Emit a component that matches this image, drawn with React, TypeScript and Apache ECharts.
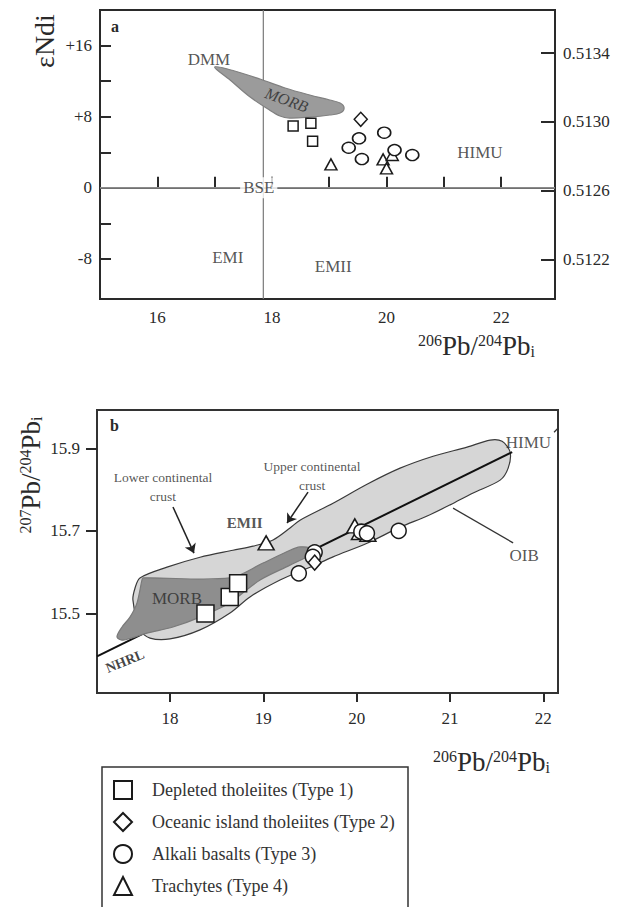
import React, { useEffect, useRef } from "react";
import * as echarts from "echarts";

// ---------- axis ticks ----------
const A_X_TICKS = [16, 17, 18, 19, 20, 21, 22];
const A_X_LABELS = [16, 18, 20, 22];
const A_Y_TICKS = [-8, -4, 0, 4, 8, 12, 16];
const A_Y_LABELS = [-8, 0, 8, 16];
const A_R_TICKS = [0.5122, 0.5126, 0.513, 0.5134];
const B_X_TICKS = [18, 19, 20, 21, 22];
const B_Y_TICKS = [15.5, 15.7, 15.9];

// ---------- panel a data (206Pb/204Pb, eNd) ----------
const aSquares = [[18.37, 6.95], [18.68, 7.26], [18.71, 5.23]];
const aDiamonds = [[19.55, 7.71]];
const aCircles = [[19.52, 5.57], [19.34, 4.51], [19.57, 3.24], [19.96, 6.2], [20.14, 4.25], [20.45, 3.69]];
const aTriangles = [[19.03, 2.64], [19.94, 3.2], [20.1, 3.69], [20.0, 2.19]];
const aMorb = [
  [17.0, 13.59], [17.35, 13.14], [17.79, 12.24], [18.23, 11.23], [18.66, 10.44], [19.01, 9.88],
  [19.19, 9.54], [19.26, 8.98], [19.19, 8.41], [19.01, 8.19], [18.66, 7.96], [18.31, 7.85],
  [18.14, 8.08], [17.93, 8.86], [17.62, 10.21], [17.27, 12.13],
];
const aBseLine = [[15, 0], [22.94, 0]];
const aVertLine = [[17.85, -12.5], [17.85, 20]];
const aLabelNames = ["DMM", "EMI", "EMII", "HIMU"];
const aLabelPos = [[16.9, 14.38], [17.23, -7.78], [19.07, -8.9], [21.63, 4.03]];
const aMorbLabelPos = [18.26, 9.9];
const aBsePos = [17.77, 0];

// ---------- panel b data (206Pb/204Pb, 207Pb/204Pb) ----------
const bSquares = [[18.38, 15.5], [18.64, 15.54], [18.73, 15.573]];
const bDiamonds = [[19.55, 15.623]];
const bCircles = [[19.38, 15.597], [19.55, 15.648], [19.53, 15.637], [20.05, 15.698], [20.11, 15.694], [20.45, 15.7]];
const bTriangles = [[19.03, 15.671], [19.98, 15.712], [20.03, 15.696], [20.12, 15.692]];
const bOib = [
  [17.678, 15.586], [17.968, 15.612], [18.322, 15.636], [18.675, 15.653], [18.89, 15.663],
  [19.104, 15.678], [19.286, 15.707], [19.393, 15.726], [19.747, 15.767], [20.111, 15.813],
  [20.465, 15.852], [20.819, 15.881], [21.183, 15.903], [21.43, 15.92], [21.558, 15.917],
  [21.644, 15.891], [21.623, 15.852], [21.537, 15.823], [21.248, 15.792], [21.001, 15.763],
  [20.755, 15.736], [20.465, 15.709], [20.111, 15.67], [19.747, 15.637], [19.501, 15.612],
  [19.179, 15.581], [18.857, 15.54], [18.643, 15.501], [18.322, 15.46], [18.0, 15.438],
  [17.786, 15.44], [17.678, 15.46], [17.603, 15.532], [17.625, 15.561],
];
const bMorb = [
  [17.711, 15.586], [18.643, 15.586], [18.997, 15.622], [19.286, 15.653], [19.393, 15.661],
  [19.501, 15.658], [19.533, 15.646], [19.286, 15.617], [18.965, 15.581], [18.75, 15.544],
  [18.643, 15.525], [18.322, 15.491], [18.032, 15.467], [17.753, 15.452], [17.496, 15.435],
  [17.432, 15.443], [17.486, 15.467], [17.571, 15.491], [17.646, 15.525], [17.7, 15.581],
];
const nhrl = [[17.218, 15.396], [21.666, 15.891]];
const bLowerArrow = [[18.032, 15.758], [18.257, 15.646]];
const bUpperArrow = [[19.479, 15.794], [19.254, 15.719]];
const bOibPointer = [[21.033, 15.755], [21.676, 15.671]];
const bHimuTail = [[22.115, 15.939], [22.157, 15.949]];
const bLabelNames = ["MORB", "Lower continental\ncrust", "Upper continental\ncrust", "HIMU", "OIB"];
const bLabelPos = [[18.075, 15.537], [17.925, 15.806], [19.522, 15.833], [21.84, 15.915], [21.794, 15.641]];
const bEmiiPos = [18.8, 15.719];
const bNhrlPos = [17.518, 15.384];

const NAMES = [
  "Depleted tholeiites (Type 1)",
  "Oceanic island tholeiites (Type 2)",
  "Alkali basalts (Type 3)",
  "Trachytes (Type 4)",
];

const FONT = "Liberation Serif, DejaVu Serif, serif";
const INK = "#2a2a2a";

function polygonSeries(points: number[][], xi: number, yi: number, fill: string, stroke: string, smooth: number, z: number) {
  return {
    type: "custom",
    xAxisIndex: xi,
    yAxisIndex: yi,
    coordinateSystem: "cartesian2d",
    silent: true,
    z,
    data: [points[0]],
    renderItem: (_p: any, api: any) => ({
      type: "polygon",
      shape: { points: points.map((p) => api.coord(p)), smooth },
      style: { fill, stroke, lineWidth: 1.2 },
    }),
  };
}

function lineSeries(data: number[][], xi: number, yi: number, color: string, width: number, z = 3) {
  return {
    type: "line",
    xAxisIndex: xi,
    yAxisIndex: yi,
    data,
    symbol: "none",
    silent: true,
    clip: false,
    z,
    lineStyle: { color, width },
  };
}

function markerSeries(name: string, data: number[][], xi: number, yi: number, symbol: string, size: any, z: number) {
  return {
    type: "scatter",
    name,
    xAxisIndex: xi,
    yAxisIndex: yi,
    data,
    symbol,
    symbolSize: size,
    z,
    itemStyle: { color: "#fff", borderColor: "#1a1a1a", borderWidth: 1.5, opacity: 1 },
  };
}

function labelSeries(names: string[], pos: number[][], xi: number, yi: number, extra: any = {}) {
  return {
    type: "scatter",
    name: "labels",
    xAxisIndex: xi,
    yAxisIndex: yi,
    silent: true,
    symbolSize: 1,
    z: 10,
    itemStyle: { color: "transparent" },
    data: pos.map((p, i) => ({ value: p, name: names[i] })),
    label: {
      show: true,
      position: "inside",
      formatter: (p: any) => p.name,
      fontFamily: FONT,
      color: INK,
      ...extra,
    },
  };
}

const supTitle = (main: number, sup: number) => ({
  m: { fontSize: main, fontFamily: FONT, fill: INK, lineHeight: main },
  s: { fontSize: sup, fontFamily: FONT, fill: INK, verticalAlign: "top", lineHeight: main },
  i: { fontSize: sup, fontFamily: FONT, fill: INK, verticalAlign: "bottom", lineHeight: main },
});

export default function App() {
  const ref = useRef<HTMLDivElement>(null);
  useEffect(() => {
    document.body.style.margin = "0";
    const chart = echarts.init(ref.current!, null, { renderer: "svg" });
    const axisLine = { show: true, lineStyle: { color: INK, width: 2 } };
    const option: any = {
      animation: false,
      backgroundColor: "#fff",
      grid: [
        { left: 100, top: 10, width: 455, height: 289, show: true, borderColor: INK, borderWidth: 2, backgroundColor: "transparent" },
        { left: 97, top: 410, width: 461, height: 283, show: true, borderColor: "#333", borderWidth: 2, backgroundColor: "transparent" },
      ],
      xAxis: [
        {
          gridIndex: 0, type: "value", min: 15, max: 22.94,
          axisLine, splitLine: { show: false },
          axisTick: { show: true, inside: true, length: 11, customValues: A_X_TICKS, lineStyle: { color: INK, width: 2 } },
          axisLabel: { customValues: A_X_LABELS, margin: 10, fontFamily: FONT, fontSize: 17, color: INK },
        },
        {
          gridIndex: 1, type: "value", min: 17.218, max: 22.157,
          axisLine: { show: true, lineStyle: { color: "#333", width: 2 } }, splitLine: { show: false },
          axisTick: { show: true, inside: false, length: 9, customValues: B_X_TICKS, lineStyle: { color: INK, width: 2 } },
          axisLabel: { customValues: B_X_TICKS, margin: 17, fontFamily: FONT, fontSize: 17, color: INK },
        },
      ],
      yAxis: [
        {
          gridIndex: 0, type: "value", min: -12.5, max: 20, position: "left",
          axisLine, splitLine: { show: false },
          axisTick: { show: true, inside: true, length: 11, customValues: A_Y_TICKS, lineStyle: { color: INK, width: 2 } },
          axisLabel: {
            customValues: A_Y_LABELS, margin: 8, fontFamily: FONT, fontSize: 17, color: INK,
            formatter: (v: number) => (v > 0 ? "+" + v : String(v)),
          },
        },
        {
          gridIndex: 0, type: "value", min: 0.51197, max: 0.51365, position: "right",
          axisLine, splitLine: { show: false },
          axisTick: { show: true, inside: true, length: 14, customValues: A_R_TICKS, lineStyle: { color: INK, width: 2 } },
          axisLabel: {
            customValues: A_R_TICKS, margin: 8, fontFamily: FONT, fontSize: 17, color: INK,
            formatter: (v: number) => v.toFixed(4),
          },
        },
        {
          gridIndex: 1, type: "value", min: 15.307, max: 15.993, position: "left",
          axisLine: { show: true, lineStyle: { color: "#333", width: 2 } }, splitLine: { show: false },
          axisTick: { show: true, inside: false, length: 11, customValues: B_Y_TICKS, lineStyle: { color: INK, width: 2 } },
          axisLabel: { customValues: B_Y_TICKS, margin: 17, fontFamily: FONT, fontSize: 17, color: INK, formatter: (v: number) => v.toFixed(1) },
        },
      ],
      legend: {
        data: NAMES,
        orient: "vertical",
        left: 102,
        top: 767,
        padding: [13, 12, 0, 11],
        itemWidth: 18,
        itemHeight: 18,
        itemGap: 12,
        borderWidth: 0,
        selectedMode: false,
        itemStyle: { color: "#fff", borderColor: "#1a1a1a", borderWidth: 2 },
        textStyle: { fontFamily: FONT, fontSize: 18, color: "#333", padding: [0, 0, 0, 15] },
      },
      series: [
        // panel a
        lineSeries(aBseLine, 0, 0, "#8a8a8a", 1.6, 2),
        lineSeries(aVertLine, 0, 0, "#7a7a7a", 1.2, 2),
        polygonSeries(aMorb, 0, 0, "#9b9b9b", "#808080", 0.35, 3),
        markerSeries(NAMES[3], aTriangles, 0, 0, "triangle", [12, 11], 5),
        markerSeries(NAMES[2], aCircles, 0, 0, "circle", [13, 11], 5),
        markerSeries(NAMES[1], aDiamonds, 0, 0, "diamond", [13, 14], 5),
        markerSeries(NAMES[0], aSquares, 0, 0, "rect", 10, 5),
        labelSeries(aLabelNames, aLabelPos, 0, 0, { fontSize: 17 }),
        labelSeries(["MORB"], [aMorbLabelPos], 0, 0, { fontSize: 16, fontStyle: "italic", rotate: -20 }),
        labelSeries(["BSE"], [aBsePos], 0, 0, { fontSize: 17, backgroundColor: "#fff", padding: [2, 3] }),
        // panel b
        polygonSeries(bOib, 1, 2, "#d6d6d6", "#3a3a3a", 0.3, 2),
        lineSeries(nhrl, 1, 2, "#111", 2, 3),
        polygonSeries(bMorb, 1, 2, "#8e8e8e", "#7a7a7a", 0.3, 4),
        lineSeries(bOibPointer, 1, 2, "#333", 1.3, 3),
        lineSeries(bHimuTail, 1, 2, "#333", 1.3, 3),
        {
          type: "line", xAxisIndex: 1, yAxisIndex: 2, data: [], silent: true,
          markLine: {
            silent: true, symbol: ["none", "arrow"], symbolSize: 9, label: { show: false },
            lineStyle: { color: "#222", width: 1.5, type: "solid" },
            data: [
              [{ coord: bLowerArrow[0] }, { coord: bLowerArrow[1] }],
              [{ coord: bUpperArrow[0] }, { coord: bUpperArrow[1] }],
            ],
          },
        },
        markerSeries(NAMES[3], bTriangles, 1, 2, "triangle", [16, 14], 6),
        markerSeries(NAMES[2], bCircles, 1, 2, "circle", 15, 6),
        markerSeries(NAMES[1], bDiamonds, 1, 2, "diamond", [13, 15], 6),
        markerSeries(NAMES[0], bSquares, 1, 2, "rect", 17, 6),
        labelSeries(bLabelNames.slice(0, 1), bLabelPos.slice(0, 1), 1, 2, { fontSize: 17 }),
        labelSeries(bLabelNames.slice(1, 3), bLabelPos.slice(1, 3), 1, 2, { fontSize: 13.5, lineHeight: 19 }),
        labelSeries(bLabelNames.slice(3), bLabelPos.slice(3), 1, 2, { fontSize: 17 }),
        labelSeries(["EMII"], [bEmiiPos], 1, 2, { fontSize: 15, fontWeight: "bold" }),
        labelSeries(["NHRL"], [bNhrlPos], 1, 2, { fontSize: 14, fontWeight: "bold", color: "#111", rotate: 22 }),
      ],
      graphic: [
        { type: "text", left: 111, top: 18, style: { text: "a", font: `bold 16px ${FONT}`, fill: INK } },
        { type: "text", left: 110, top: 417, style: { text: "b", font: `bold 16px ${FONT}`, fill: INK } },
        {
          type: "text", x: 44, y: 41, rotation: Math.PI / 2,
          style: { text: "εNdi", font: `28px ${FONT}`, fill: INK, align: "center", verticalAlign: "middle" },
        },
        {
          type: "text", x: 418, y: 346,
          style: { text: "{s|206}{m|Pb/}{s|204}{m|Pb}{i|i}", rich: supTitle(27, 16), verticalAlign: "middle" },
        },
        {
          type: "text", x: 433, y: 762,
          style: { text: "{s|206}{m|Pb/}{s|204}{m|Pb}{i|i}", rich: supTitle(27, 16), verticalAlign: "middle" },
        },
        {
          type: "text", x: 31, y: 475, rotation: Math.PI / 2,
          style: { text: "{s|207}{m|Pb/}{s|204}{m|Pb}{i|i}", rich: supTitle(27, 16), align: "center", verticalAlign: "middle" },
        },
        {
          type: "rect", z: 1, silent: true,
          shape: { x: 102, y: 767, width: 306, height: 200 },
          style: { fill: "none", stroke: "#333", lineWidth: 1.5 },
        },
      ],
    };
    chart.setOption(option);
    return () => chart.dispose();
  }, []);
  return <div ref={ref} style={{ width: 628, height: 907 }} />;
}
